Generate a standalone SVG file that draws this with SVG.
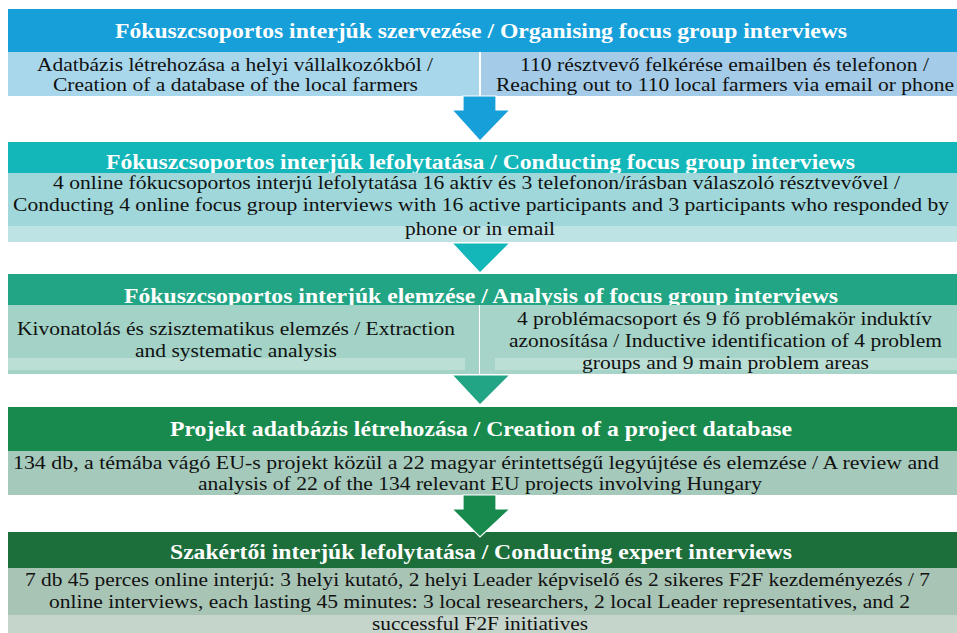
<svg xmlns="http://www.w3.org/2000/svg" width="957" height="633" viewBox="0 0 957 633">
<style>
.h{font-family:'Liberation Serif','Times New Roman','DejaVu Serif',serif;font-weight:bold;font-size:22px;fill:#ffffff;text-anchor:middle}
.t{font-family:'Liberation Serif','Times New Roman','DejaVu Serif',serif;font-size:19px;fill:#111111;text-anchor:middle}
.arr{stroke:#ffffff;stroke-width:1.2}
</style>
<rect width="957" height="633" fill="#ffffff"/>

<g id="step1-header">
<rect x="8" y="9" width="949" height="43" fill="#169fd9"/>
<text class="h" x="481" y="38" textLength="732" lengthAdjust="spacingAndGlyphs">Fókuszcsoportos interjúk szervezése / Organising focus group interviews</text>
</g>
<g id="step1-left">
<rect x="8" y="52" width="471" height="44" fill="#a8d7eb"/>
<text class="t" x="235" y="71" textLength="396" lengthAdjust="spacingAndGlyphs">Adatbázis létrehozása a helyi vállalkozókból /</text>
<text class="t" x="235.5" y="91" textLength="365" lengthAdjust="spacingAndGlyphs">Creation of a database of the local farmers</text>
</g>
<g id="step1-right">
<rect x="481" y="52" width="476" height="44" fill="#a4cce8"/>
<text class="t" x="724.5" y="71" textLength="409" lengthAdjust="spacingAndGlyphs">110 résztvevő felkérése emailben és telefonon /</text>
<text class="t" x="725" y="91" textLength="458" lengthAdjust="spacingAndGlyphs">Reaching out to 110 local farmers via email or phone</text>
</g>

<g id="step2-header">
<rect x="8" y="142" width="949" height="31" fill="#13b7b9"/>
<text class="h" x="480.5" y="169" textLength="749" lengthAdjust="spacingAndGlyphs">Fókuszcsoportos interjúk lefolytatása / Conducting focus group interviews</text>
</g>
<g id="step2-detail">
<rect x="8" y="173" width="949" height="53" fill="#9fd7da"/>
<rect x="8" y="226" width="949" height="16" fill="#bde3e4"/>
<text class="t" x="476.5" y="189" textLength="847" lengthAdjust="spacingAndGlyphs">4 online fókucsoportos interjú lefolytatása 16 aktív és 3 telefonon/írásban válaszoló résztvevővel /</text>
<text class="t" x="481" y="211" textLength="936" lengthAdjust="spacingAndGlyphs">Conducting 4 online focus group interviews with 16 active participants and 3 participants who responded by</text>
<text class="t" x="480" y="235" textLength="150" lengthAdjust="spacingAndGlyphs">phone or in email</text>
</g>

<g id="step3-header">
<rect x="8" y="274" width="949" height="31" fill="#22a584"/>
<text class="h" x="481" y="303" textLength="714" lengthAdjust="spacingAndGlyphs">Fókuszcsoportos interjúk elemzése / Analysis of focus group interviews</text>
</g>
<g id="step3-left">
<rect x="8" y="305" width="471" height="69" fill="#a3d3c6"/>
<rect x="8" y="358" width="457" height="12" fill="#bcdfd5"/>
<text class="t" x="236" y="335" textLength="438" lengthAdjust="spacingAndGlyphs">Kivonatolás és szisztematikus elemzés / Extraction</text>
<text class="t" x="236" y="357" textLength="202" lengthAdjust="spacingAndGlyphs">and systematic analysis</text>
</g>
<g id="step3-right">
<rect x="480" y="305" width="477" height="69" fill="#a6d4c8"/>
<rect x="495" y="358" width="462" height="12" fill="#bcdfd5"/>
<text class="t" x="724.5" y="325" textLength="415" lengthAdjust="spacingAndGlyphs">4 problémacsoport és 9 fő problémakör induktív</text>
<text class="t" x="725.5" y="347" textLength="433" lengthAdjust="spacingAndGlyphs">azonosítása / Inductive identification of 4 problem</text>
<text class="t" x="725.5" y="369" textLength="287" lengthAdjust="spacingAndGlyphs">groups and 9 main problem areas</text>
</g>

<g id="step4-header">
<rect x="8" y="407" width="949" height="44" fill="#198a4e"/>
<text class="h" x="481" y="436" textLength="622" lengthAdjust="spacingAndGlyphs">Projekt adatbázis létrehozása / Creation of a project database</text>
</g>
<g id="step4-detail">
<rect x="8" y="451" width="949" height="44" fill="#a5cabc"/>
<text class="t" x="476" y="469" textLength="926" lengthAdjust="spacingAndGlyphs">134 db, a témába vágó EU-s projekt közül a 22 magyar érintettségű legyújtése és elemzése / A review and</text>
<text class="t" x="480" y="490" textLength="564" lengthAdjust="spacingAndGlyphs">analysis of 22 of the 134 relevant EU projects involving Hungary</text>
</g>

<g id="step5-header">
<rect x="8" y="532" width="949" height="36" fill="#1c6e3b"/>
<text class="h" x="481" y="559" textLength="622" lengthAdjust="spacingAndGlyphs">Szakértői interjúk lefolytatása / Conducting expert interviews</text>
</g>
<g id="step5-detail">
<rect x="8" y="568" width="949" height="47" fill="#a8c4b5"/>
<rect x="8" y="615" width="949" height="18" fill="#c5d5cc"/>
<text class="t" x="477.5" y="586" textLength="905" lengthAdjust="spacingAndGlyphs">7 db 45 perces online interjú: 3 helyi kutató, 2 helyi Leader képviselő és 2 sikeres F2F kezdeményezés / 7</text>
<text class="t" x="479.5" y="608" textLength="861" lengthAdjust="spacingAndGlyphs">online interviews, each lasting 45 minutes: 3 local researchers, 2 local Leader representatives, and 2</text>
<text class="t" x="480" y="630" textLength="216" lengthAdjust="spacingAndGlyphs">successful F2F initiatives</text>
</g>

<g id="connectors">
<polygon class="arr" fill="#169fd9" points="463,96 496,96 496,110 510,110 480,141 452,110 463,110"/>
<polygon class="arr" fill="#13b7b9" points="452,243 510,243 480,273"/>
<polygon class="arr" fill="#22a584" points="452,375 510,375 480,405"/>
<polygon class="arr" fill="#198a4e" points="463,495 496,495 496,509 510,509 480,537 452,509 463,509"/>
</g>
</svg>
